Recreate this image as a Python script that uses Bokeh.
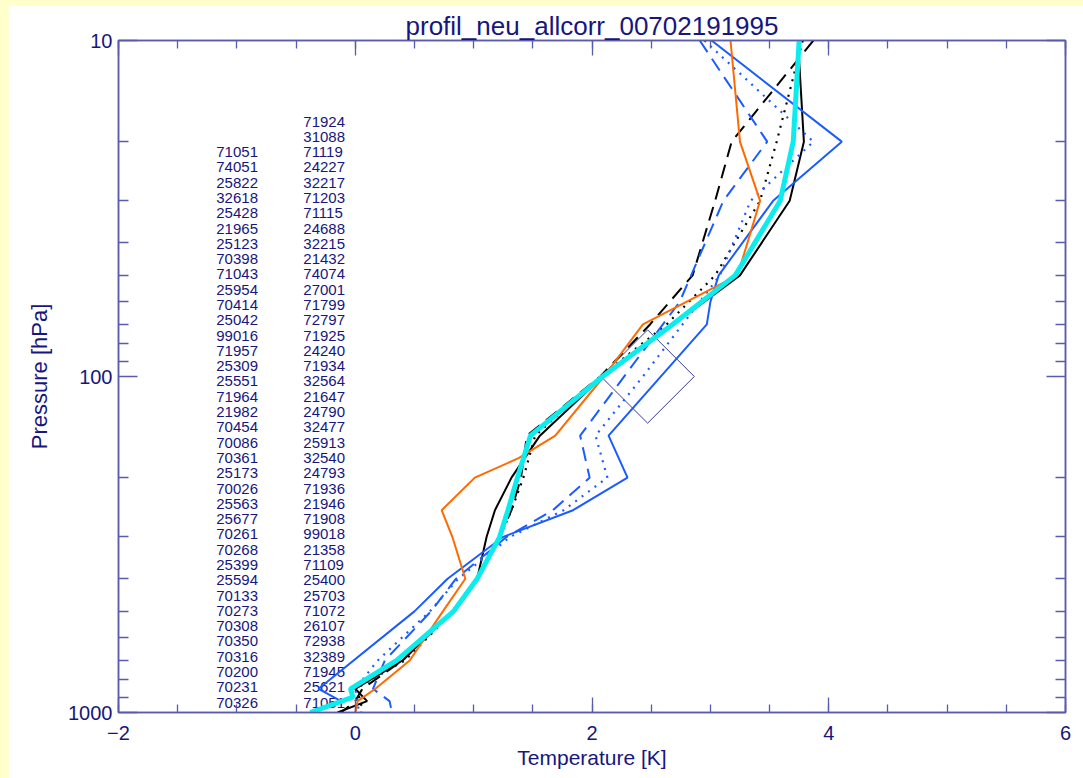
import numpy as np
from bokeh.plotting import figure
from bokeh.models import (Range1d, LinearAxis, LogAxis, FixedTicker, CustomJSTickFormatter,
                          ColumnDataSource, Spacer, LinearScale, NumeralTickFormatter)
from bokeh.layouts import row, column
from bokeh.embed import file_html
from bokeh.resources import INLINE
from bokeh.core.properties import value

TITLE = "profil_neu_allcorr_00702191995"
X_LABEL = "Temperature [K]"
Y_LABEL = "Pressure [hPa]"

# ---------------- data (temperature differences [K] vs pressure [hPa]) -------------
p_black_solid = [10, 20, 30, 50, 100, 150, 200, 250, 300, 400, 500, 700, 850, 925, 1000]
t_black_solid = [3.74, 3.79, 3.67, 3.25, 2.09, 1.56, 1.32, 1.18, 1.11, 1.03, 0.82, 0.40, 0.0, 0.10, -0.15]

p_black_dash = [10, 20, 30, 50, 70, 100, 150, 200, 250, 300, 400, 500, 700, 850, 925, 1000]
t_black_dash = [3.87, 3.18, 3.04, 2.85, 2.49, 2.07, 1.45, 1.40, 1.32, 1.22, 1.02, 0.82, 0.40, 0.06, 0.0, -0.12]

p_black_dot = [10, 20, 30, 50, 70, 100, 150, 200, 250, 300, 400, 500, 700, 850, 925, 1000]
t_black_dot = [3.78, 3.56, 3.42, 3.04, 2.63, 2.07, 1.52, 1.42, 1.32, 1.22, 1.03, 0.83, 0.42, 0.0, 0.05, 0.05]

p_blue_solid = [10, 20, 30, 50, 60, 70, 150, 200, 250, 300, 400, 500, 850, 925, 1000]
t_blue_solid = [3.01, 4.11, 3.53, 3.07, 3.00, 2.97, 2.14, 2.30, 1.84, 1.25, 0.78, 0.50, -0.31, -0.12, -0.38]

p_blue_dash = [10, 20, 30, 60, 150, 200, 250, 300, 400, 500, 700, 850, 925, 1000]
t_blue_dash = [2.91, 3.48, 3.11, 2.74, 1.90, 1.98, 1.67, 1.28, 0.85, 0.64, 0.25, 0.15, 0.29, 0.31]

p_blue_dot = [10, 20, 30, 50, 100, 150, 200, 250, 300, 400, 500, 700, 850, 925, 1000]
t_blue_dot = [2.95, 3.87, 3.34, 3.08, 2.43, 2.03, 2.13, 1.76, 1.31, 0.87, 0.63, 0.19, 0.0, 0.02, 0.03]

p_orange = [10, 20, 30, 50, 70, 100, 150, 175, 200, 250, 300, 400, 500, 700, 850, 925, 1000]
t_orange = [3.17, 3.25, 3.42, 3.23, 2.43, 2.10, 1.69, 1.38, 1.01, 0.73, 0.82, 0.93, 0.74, 0.46, 0.17, 0.02, 0.0]

p_cyan = [10, 20, 30, 50, 70, 100, 150, 200, 250, 300, 400, 500, 700, 850, 900, 1000]
t_cyan = [3.75, 3.70, 3.59, 3.21, 2.68, 2.09, 1.48, 1.37, 1.29, 1.22, 1.03, 0.83, 0.35, -0.04, -0.02, -0.38]

p_marker = [100]
t_marker = [2.47]

stations_left = ["71051", "74051", "25822", "32618", "25428", "21965", "25123", "70398",
                 "71043", "25954", "70414", "25042", "99016", "71957", "25309", "25551",
                 "71964", "21982", "70454", "70086", "70361", "25173", "70026", "25563",
                 "25677", "70261", "70268", "25399", "25594", "70133", "70273", "70308",
                 "70350", "70316", "70200", "70231", "70326"]
stations_right = ["71924", "31088", "71119", "24227", "32217", "71203", "71115", "24688",
                  "32215", "21432", "74074", "27001", "71799", "72797", "71925", "24240",
                  "71934", "32564", "21647", "24790", "32477", "25913", "32540", "24793",
                  "71936", "21946", "71908", "99018", "21358", "71109", "25400", "25703",
                  "71072", "26107", "72938", "32389", "71945", "25621", "71051"]

x_major = [-2, 0, 2, 4, 6]
y_major = [10, 100, 1000]
y_minor = [20, 30, 40, 50, 60, 70, 80, 90, 200, 300, 400, 500, 600, 700, 800, 900]

# ---------------- styling ----------------
NAVY = "#16167e"
AXC = "#5b5bab"
BLUE = "#1b5cff"
ORANGE = "#ff6a00"
CYAN = "#0cecec"
FONT = "Liberation Sans"

XMIN, XMAX = -2, 6
p = figure(width=1075, height=773, x_range=Range1d(XMIN, XMAX), y_range=Range1d(1000, 10),
           y_axis_type="log", output_backend="svg", toolbar_location=None,
           min_border_left=110, min_border_right=18, min_border_top=35, min_border_bottom=66,
           background_fill_color="white", border_fill_color="white")
p.xgrid.visible = False
p.ygrid.visible = False
p.outline_line_color = AXC
p.outline_line_width = 1.5

p.title.text = TITLE
p.title.align = "center"
p.title.text_font = FONT
p.title.text_font_size = "26px"
p.title.text_font_style = "normal"
p.title.text_color = NAVY
p.title.standoff = 0

blank = CustomJSTickFormatter(code="return ''")

def style_axis(ax, show_labels):
    ax.axis_line_color = AXC
    ax.axis_line_width = 1.5
    ax.major_tick_line_color = AXC
    ax.minor_tick_line_color = AXC
    ax.major_tick_line_width = 1.3
    ax.minor_tick_line_width = 1.3
    ax.major_tick_out = 0
    ax.minor_tick_out = 0
    ax.major_label_text_color = NAVY
    ax.major_label_text_font = FONT
    ax.axis_label_text_color = NAVY
    ax.axis_label_text_font = FONT
    ax.axis_label_text_font_style = "normal"
    if not show_labels:
        ax.formatter = blank
        ax.major_label_text_font_size = "2px"
        ax.major_label_standoff = 0

xt = FixedTicker(ticks=x_major, minor_ticks=list(np.arange(XMIN, XMAX + 0.01, 0.5)))
yt = FixedTicker(ticks=y_major, minor_ticks=y_minor)

xa = p.xaxis[0]
xa.ticker = xt
style_axis(xa, True)
xa.major_tick_in = 15
xa.minor_tick_in = 8
xa.major_label_text_font_size = "20px"
xa.major_label_standoff = 13
xa.major_label_overrides = {-2: "\u22122", 0: "0", 2: "2", 4: "4", 6: "6"}
xa.axis_label = X_LABEL
xa.axis_label_text_font_size = "21px"
xa.axis_label_standoff = 3

ya = p.yaxis[0]
ya.ticker = yt
ya.formatter = NumeralTickFormatter(format="0")
style_axis(ya, True)
ya.major_tick_in = 19
ya.minor_tick_in = 10
ya.major_label_text_font_size = "20px"
ya.major_label_standoff = 6
ya.axis_label = Y_LABEL
ya.axis_label_text_font_size = "22px"
ya.axis_label_standoff = 13

top = LinearAxis(ticker=xt)
style_axis(top, False)
top.major_tick_in = 15
top.minor_tick_in = 8
p.add_layout(top, "above")

right = LogAxis(ticker=yt)
style_axis(right, False)
right.major_tick_in = 19
right.minor_tick_in = 10
p.add_layout(right, "right")

# ---------------- station list (text rows) ----------------
ROW_TOP_INDEX = -5.30
ROW_BOTTOM_INDEX = 38.65
p.extra_y_ranges = {"rows": Range1d(ROW_BOTTOM_INDEX, ROW_TOP_INDEX)}
p.extra_y_scales = {"rows": LinearScale()}
COL_LEFT_X = -1.174
COL_RIGHT_X = -0.439
n_right = len(stations_right)
n_left = len(stations_left)
src_r = ColumnDataSource(dict(x=[COL_RIGHT_X] * n_right, y=list(range(n_right)), t=stations_right))
src_l = ColumnDataSource(dict(x=[COL_LEFT_X] * n_left, y=list(range(n_right - n_left, n_right)), t=stations_left))
for s in (src_r, src_l):
    p.text(x="x", y="y", text="t", source=s, y_range_name="rows", text_font=value(FONT),
           text_font_size="15px", text_color=NAVY, text_align="left", text_baseline="middle")

# ---------------- marker ----------------
p.scatter(t_marker, p_marker, marker="square", angle=np.pi / 4, size=66,
          fill_color=None, line_color="#3a3a96", line_width=1)

# ---------------- profiles ----------------
p.line(t_black_solid, p_black_solid, line_color="black", line_width=2)
p.line(t_black_dash, p_black_dash, line_color="black", line_width=2, line_dash="14 8")
p.line(t_black_dot, p_black_dot, line_color="black", line_width=2.2, line_dash="2 6")
p.line(t_blue_solid, p_blue_solid, line_color=BLUE, line_width=2)
p.line(t_blue_dash, p_blue_dash, line_color=BLUE, line_width=2, line_dash="14 8")
p.line(t_blue_dot, p_blue_dot, line_color=BLUE, line_width=2.2, line_dash="2 6")
p.line(t_orange, p_orange, line_color=ORANGE, line_width=2)
p.line(t_cyan, p_cyan, line_color=CYAN, line_width=5)

YELLOW = "#ffffcc"
layout = row(Spacer(width=8, height=778, styles={"background-color": YELLOW}),
             column(Spacer(width=1075, height=5, styles={"background-color": YELLOW}), p),
             styles={"background-color": YELLOW})

open("out.html", "w").write(file_html(layout, INLINE))
